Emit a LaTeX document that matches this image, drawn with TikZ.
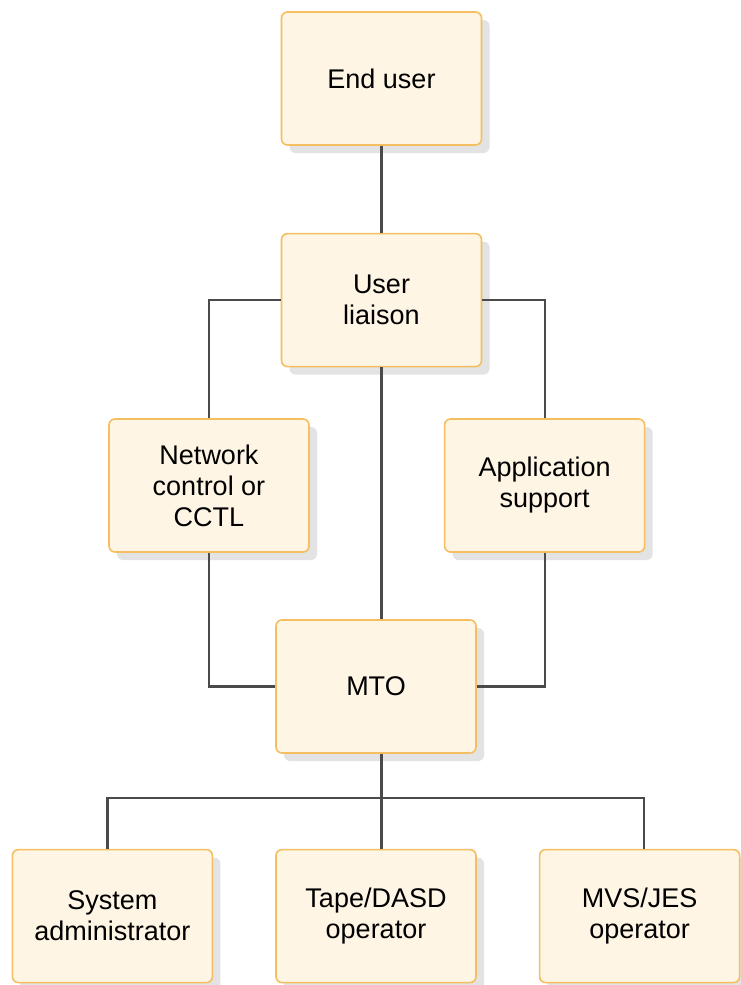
\documentclass[tikz,border=0pt]{standalone}
\usepackage{fontspec}
\setmainfont{Liberation Sans}
\usepackage{xcolor}
\usetikzlibrary{calc, positioning, shadows}

\definecolor{boxfill}{HTML}{FEF5E4}
\definecolor{boxline}{HTML}{F5BE60}
\definecolor{linkgray}{HTML}{4A4A4A}

\begin{document}
\begin{tikzpicture}[x = 1pt, y = 1pt,
  role/.style = {draw = boxline, fill = boxfill, line width = 1.6pt, rounded corners = 6pt,
    minimum width = 200pt, minimum height = 133pt, inner sep = 0pt, align = center,
    font = \fontsize{27}{31}\selectfont,
    drop shadow = {shadow xshift = 8pt, shadow yshift = -8pt, fill = black!11, opacity = 1}},
  link/.style = {draw = linkgray, line width = 2.2pt}]
\path[use as bounding box, fill = white] (0,0) rectangle (740,-985);
\node[role] (enduser) at (381.5,-78.5) {End user};
\node[role, below = 87pt of enduser] (liaison) {User\\liaison};
\node[role] (network) at (209,-485.5) {Network\\control or\\CCTL};
\node[role, right = 134pt of network] (appsup) {Application\\support};
\node[role] (mto) at (376,-686.5) {MTO};
\node[role, below = 95pt of mto] (tape) {Tape/DASD\\operator};
\node[role, left = 62pt of tape] (sysadm) {System\\administrator};
\node[role, right = 62pt of tape] (mvs) {MVS/JES\\operator};
\coordinate (bus) at (liaison.south |- 0,-798);
\draw[link] (enduser) -- (liaison);
\draw[link] (liaison.west) -| (network.north);
\draw[link] (liaison.east) -| (appsup.north);
\draw[link] (liaison.south) -- (liaison.south |- mto.north);
\draw[link] (network.south) |- (mto.west);
\draw[link] (appsup.south) |- (mto.east);
\draw[link] (bus |- mto.south) -- (bus);
\draw[link] ([xshift = -5pt]sysadm.north) |- (bus) -| ([xshift = 4pt]mvs.north);
\draw[link] (bus) -- (bus |- tape.north);
\end{tikzpicture}
\end{document}
